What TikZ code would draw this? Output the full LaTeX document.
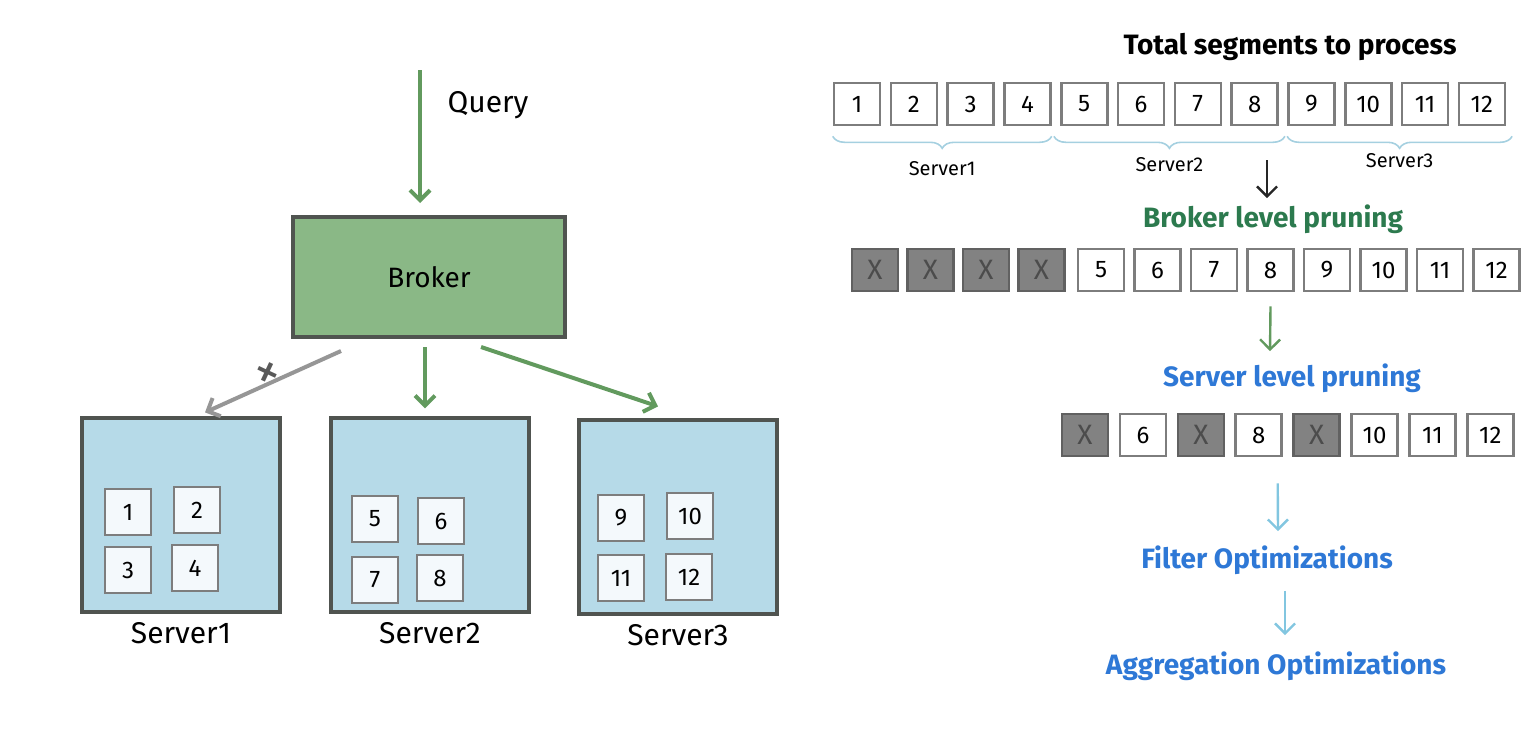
\documentclass[tikz,border=0pt]{standalone}
\usepackage{fontspec}
\setmainfont{Fira Sans}
\usetikzlibrary{positioning,arrows.meta,decorations.pathreplacing}

\definecolor{brokergreen}{RGB}{138,184,134}
\definecolor{servblue}{RGB}{182,218,232}
\definecolor{boxline}{RGB}{80,84,80}
\definecolor{segline}{RGB}{125,125,125}
\definecolor{prunegray}{RGB}{130,130,130}
\definecolor{arrowgreen}{RGB}{98,154,94}
\definecolor{arrowgray}{RGB}{150,150,150}
\definecolor{arrowblue}{RGB}{130,198,224}
\definecolor{titlegreen}{RGB}{44,122,78}
\definecolor{titleblue}{RGB}{46,120,214}
\definecolor{bracecol}{RGB}{165,208,224}

\tikzset{
  seg/.style={draw=segline, line width=1.3pt, fill=white, minimum width=23pt, minimum height=21pt, inner sep=0pt, font=\fontsize{12}{12}\selectfont},
  cut/.style={seg, fill=prunegray, draw=prunegray!75!black, text=black!70, font=\fontsize{14}{14}\selectfont},
  inseg/.style={seg, fill=servblue!15, minimum width=23pt, minimum height=23pt},
  server/.style={draw=boxline, line width=1.6pt, fill=servblue, minimum width=99pt, minimum height=97pt},
  broker/.style={draw=boxline, line width=2pt, fill=brokergreen, minimum width=136pt, minimum height=60pt, font=\fontsize{14}{14}\selectfont},
  lbl/.style={inner sep=0pt, font=\fontsize{15}{15}\selectfont},
  heading/.style={inner sep=0pt, font=\bfseries\fontsize{14}{14}\selectfont},
  flow/.style={->, line width=2pt},
  step arrow/.style={->, line width=1.2pt},
  brace/.style={draw=bracecol, line width=0.8pt, decorate, decoration={brace, mirror, amplitude=6pt}},
  >={Straight Barb[length=5pt, width=10pt]}
}

\begin{document}
\begin{tikzpicture}[x=0.5pt, y=-0.5pt]
\useasboundingbox (0,0) rectangle (1536,739);

% left: broker and servers
\node[broker] (broker) at (429,277) {Broker};
\node[server] (srv1) at (181,515) {};
\node[server] (srv2) at (430,515) {};
\node[server] (srv3) at (678,517) {};
\node[lbl, below=4pt of srv1] (l1) {Server1};
\node[lbl, below=4pt of srv2] (l2) {Server2};
\node[lbl, below=4pt of srv3] (l3) {Server3};

\foreach \n/\x/\y in {1/128/512, 2/197/510, 3/128/570, 4/195/568,
                      5/375/519, 6/441/521, 7/375/580, 8/440/578,
                      9/621/518, 10/690/516, 11/621/578, 12/689/577}
  \node[inseg] (in\n) at (\x,\y) {\n};

\coordinate (q) at (420,70);
\node[lbl] (query) at (488,105) {Query};
\draw[flow, arrowgreen] (q) -- ([xshift=-4.5pt, yshift=6pt]broker.north);
\draw[flow, arrowgray] ([xshift=25pt, yshift=-6pt]broker.south west) -- ([xshift=12pt, yshift=2pt]srv1.north)
  node[pos=0.6, above=-1pt, rotate=-25, inner sep=0pt, text=black!65, font=\fontsize{26}{26}\selectfont] (skip) {+};
\draw[flow, arrowgreen] ([xshift=-2pt, yshift=-4pt]broker.south) -- ([xshift=-2.5pt, yshift=4pt]srv2.north);
\draw[flow, arrowgreen] ([xshift=26pt, yshift=-4pt]broker.south) -- ([xshift=-10pt, yshift=6pt]srv3.north);

% right: pruning steps
\node[heading] (total) at (1290,47) {Total segments to process};
\foreach \i in {1,...,12}
  \node[seg] (a\i) at ({857+(\i-1)*56.8},104) {\i};

\draw[brace] ([yshift=-5pt]a1.south west) -- ([yshift=-5pt]a4.south east)
  node[midway, below=9pt, font=\fontsize{10}{10}\selectfont] (bs1) {Server1};
\draw[brace] ([xshift=-3pt, yshift=-5pt]a5.south west) -- ([xshift=3pt, yshift=-5pt]a8.south east)
  node[midway, below=7pt, font=\fontsize{10}{10}\selectfont] (bs2) {Server2};
\draw[brace] ([yshift=-5pt]a9.south west) -- ([xshift=3pt, yshift=-5pt]a12.south east)
  node[midway, below=5pt, font=\fontsize{10}{10}\selectfont] (bs3) {Server3};

\node[heading, text=titlegreen] (bkp) at (1273,219) {Broker level pruning};
\coordinate (a1) at (1267,160);
\draw[step arrow, black!85] (a1) -- ([xshift=-3pt, yshift=3pt]bkp.north);

\foreach \i in {1,...,4}
  \node[cut] (b\i) at ({875+(\i-1)*55.5},270) {X};
\foreach \i in {5,...,12}
  \node[seg] (b\i) at ({875+(\i-1)*56.5},270) {\i};

\node[heading, text=titleblue] (slp) at (1292,378) {Server level pruning};
\draw[step arrow, arrowgreen] ([yshift=-7pt]b8.south) -- ([xshift=-11pt, yshift=6pt]slp.north);

\foreach \i/\t/\st in {1/X/cut, 2/6/seg, 3/X/cut, 4/8/seg, 5/X/cut, 6/10/seg, 7/11/seg, 8/12/seg}
  \node[\st] (c\i) at ({1085+(\i-1)*57.9},435) {\t};

\node[heading, text=titleblue] (filt) at (1267,560) {Filter Optimizations};
\node[heading, text=titleblue] (aggr) at (1276,666) {Aggregation Optimizations};
\draw[step arrow, arrowblue] ([xshift=9.5pt, yshift=-13pt]c4.south) -- ([xshift=5.5pt, yshift=7pt]filt.north);
\draw[step arrow, arrowblue] ([xshift=9pt, yshift=-8pt]filt.south) -- ([xshift=4.5pt, yshift=8pt]aggr.north);

\end{tikzpicture}
\end{document}
